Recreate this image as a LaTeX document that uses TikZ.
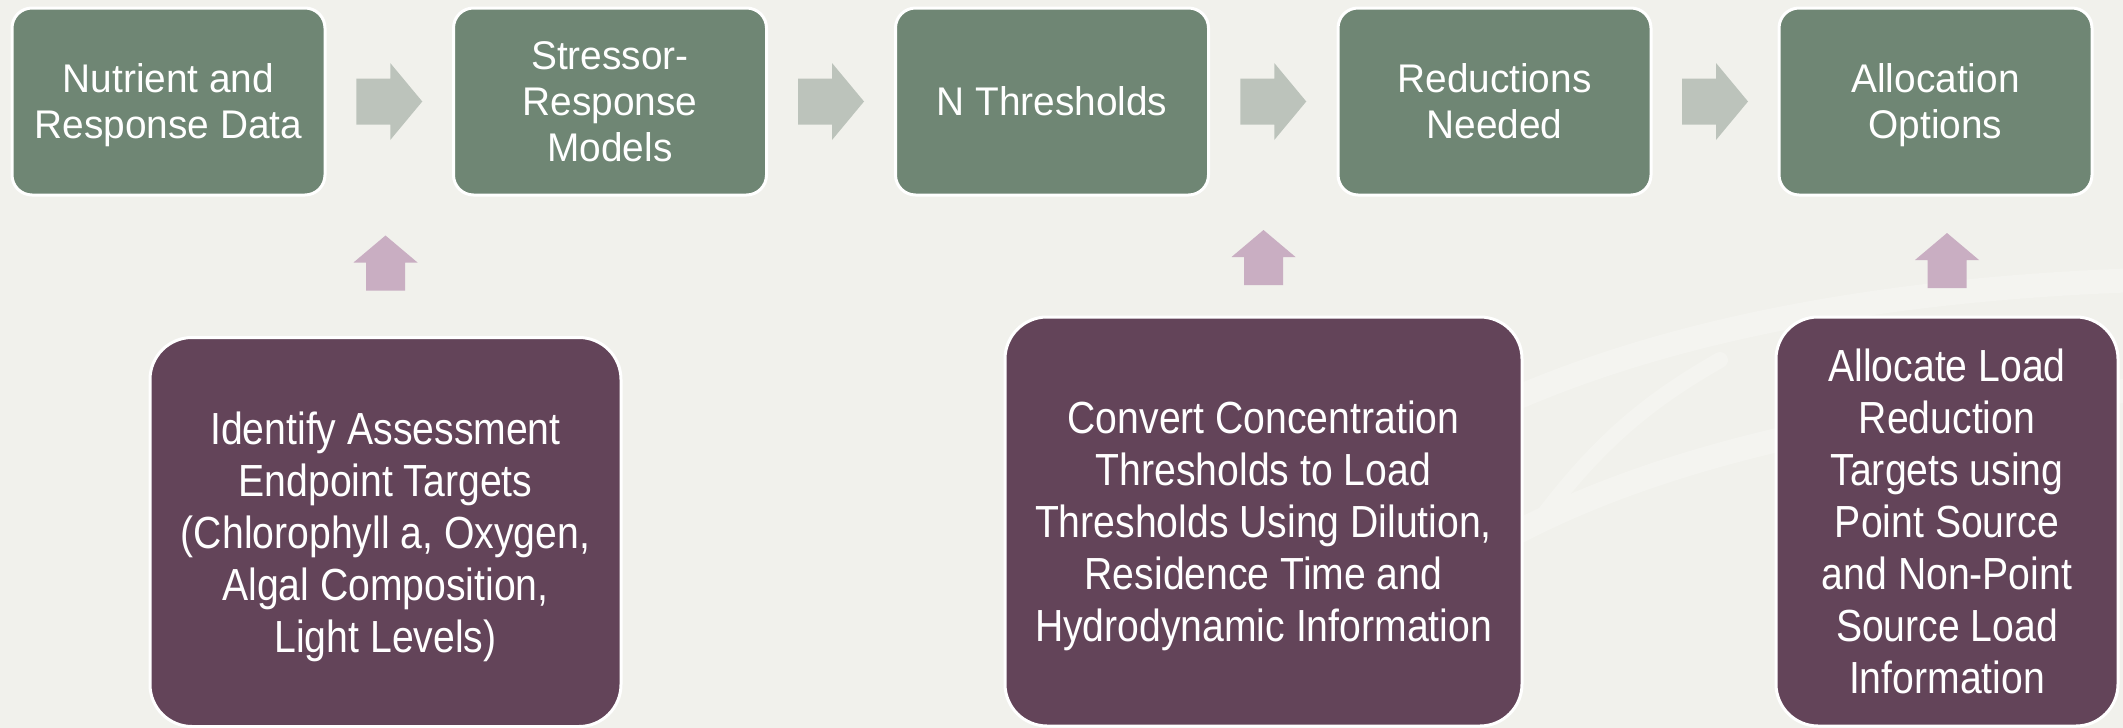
\documentclass[tikz,border=0pt]{standalone}
\usepackage{fontspec}
\setmainfont{Liberation Sans}
\newfontfamily\topfont{Liberation Sans}[FakeStretch=0.97]
\newfontfamily\botfont{Liberation Sans}[FakeStretch=0.87]
\usetikzlibrary{calc}
\definecolor{bg}{HTML}{F1F1EC}
\definecolor{wm}{HTML}{F4F4F0}
\definecolor{boxgreen}{HTML}{6F8674}
\definecolor{boxpurple}{HTML}{634459}
\definecolor{arrgray}{HTML}{BCC3BB}
\definecolor{arrpink}{HTML}{C9AEC2}
\tikzset{
  topbox/.style={draw=white, line width=3pt, fill=boxgreen, rounded corners=20pt,
    minimum width=313pt, minimum height=187pt, inner sep=0pt, align=center,
    text depth=0pt, text=white, font=\topfont\fontsize{40}{46}\selectfont},
  botbox/.style={draw=white, line width=3pt, fill=boxpurple, rounded corners=42pt,
    inner sep=0pt, align=center, text depth=0pt, text=white,
    font=\botfont\fontsize{45}{52}\selectfont},
  rarrow/.style={fill=arrgray},
  uarrow/.style={fill=arrpink},
  wmband/.style={draw=wm, line width=24pt, line cap=round}
}
\begin{document}
\begin{tikzpicture}[x=1pt,y=-1pt]
\useasboundingbox (0,0) rectangle (2123,728);
\fill[bg] (0,0) rectangle (2123,728);
% faint watermark
\draw[wmband] (1150,740) .. controls (1260,480) and (1560,300) .. (2140,280);
\draw[wmband] (1300,740) .. controls (1380,560) and (1650,420) .. (2140,390);
\draw[wmband, line width=16pt] (1540,520) .. controls (1600,440) and (1650,400) .. (1720,360);
% top row
\node[topbox] (t1) at (168.5,101.5) {Nutrient and\\Response Data};
\node[topbox] (t2) at (610,101.5) {Stressor-\\Response\\Models};
\node[topbox] (t3) at (1052,101.5) {N Thresholds};
\node[topbox] (t4) at (1494.5,101.5) {Reductions\\Needed};
\node[topbox] (t5) at (1935.5,101.5) {Allocation\\Options};
% bottom row
\node[botbox, minimum width=471pt, minimum height=389pt] (bA) at (385.5,532)
  {Identify Assessment\\Endpoint Targets\\(Chlorophyll a, Oxygen,\\Algal Composition,\\Light Levels)};
\node[botbox, minimum width=517pt, minimum height=409pt] (bB) at (1263.5,521.5)
  {Convert Concentration\\Thresholds to Load\\Thresholds Using Dilution,\\Residence Time and\\Hydrodynamic Information};
\node[botbox, minimum width=342pt, minimum height=409pt] (bC) at (1947,521.5)
  {Allocate Load\\Reduction\\Targets using\\Point Source\\and Non-Point\\Source Load\\Information};
% right arrows
\foreach \a/\b/\n in {t1/t2/1, t2/t3/2, t3/t4/3, t4/t5/4}{
  \coordinate (r\n) at ($(\a.east)!0.5!(\b.west)$);
  \fill[rarrow] (r\n) ++(-33,-23) -- ++(34,0) -- ++(0,-15.5) -- ++(32,38.5)
    -- ++(-32,38.5) -- ++(0,-15.5) -- ++(-34,0) -- cycle;
}
% up arrows
\coordinate (u1) at ($(bA.north)+(0,-73)$);
\coordinate (u2) at ($(bB.north)+(0,-58)$);
\coordinate (u3) at ($(bC.north)+(0,-55)$);
\foreach \n in {1,2,3}{
  \fill[uarrow] (u\n) ++(-19.5,27.5) -- ++(0,-28) -- ++(-12.5,0) -- ++(32,-27)
    -- ++(32,27) -- ++(-12.5,0) -- ++(0,28) -- cycle;
}
\end{tikzpicture}
\end{document}
